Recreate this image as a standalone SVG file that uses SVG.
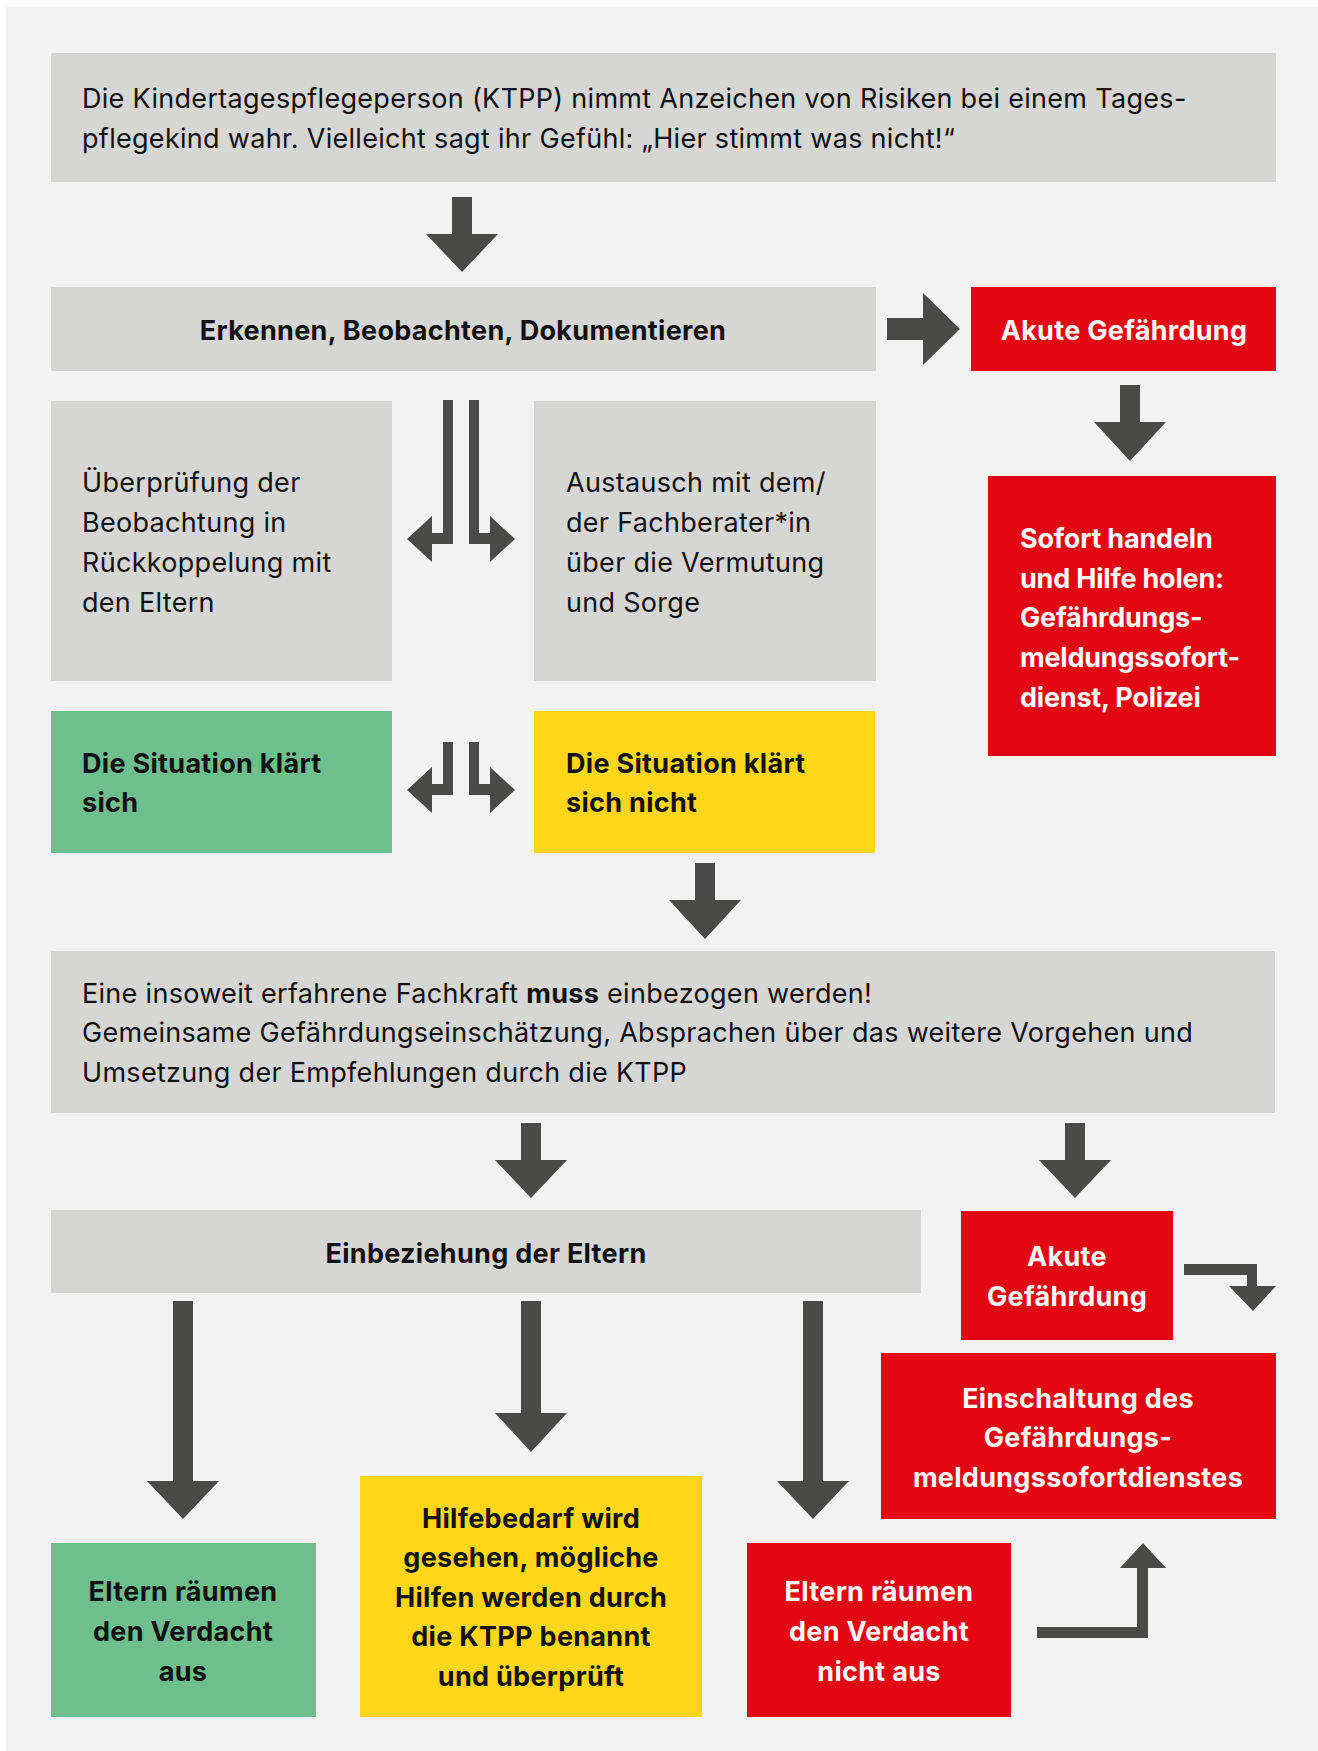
<svg xmlns="http://www.w3.org/2000/svg" width="1318" height="1751" viewBox="0 0 1318 1751">
<style>
text{font-family:Inter,"Liberation Sans",sans-serif;font-size:27px;letter-spacing:0.3px;fill:#111}
.b{font-weight:700}
.w{fill:#fff}
.c{text-anchor:middle}
.s{letter-spacing:-0.2px}
.gray{fill:#d6d6d4}
.red{fill:#e30613}
.green{fill:#6fbe8d}
.yellow{fill:#ffd619}
.arr{fill:#4a4a48}
</style>
<rect x="0" y="0" width="1318" height="1751" fill="#fff"/>
<rect x="6" y="7" width="1312" height="1744" fill="#f2f2f2"/>

<g id="n1">
<rect class="gray" x="51" y="53" width="1225" height="129"/>
<text x="82" y="108">Die Kindertagespflegeperson (KTPP) nimmt Anzeichen von Risiken bei einem Tages-</text>
<text x="82" y="148">pflegekind wahr. Vielleicht sagt ihr Gefühl: „Hier stimmt was nicht!“</text>
</g>
<g id="n2">
<rect class="gray" x="51" y="287" width="825" height="84"/>
<text class="b c" x="463" y="340">Erkennen, Beobachten, Dokumentieren</text>
</g>
<g id="n3">
<rect class="red" x="971" y="287" width="305" height="84"/>
<text class="b c w" x="1124" y="340">Akute Gefährdung</text>
</g>
<g id="n4">
<rect class="red" x="988" y="476" width="288" height="280"/>
<text class="b w s" x="1020" y="548">Sofort handeln</text>
<text class="b w s" x="1020" y="588">und Hilfe holen:</text>
<text class="b w s" x="1020" y="627">Gefährdungs-</text>
<text class="b w s" x="1020" y="667">meldungssofort-</text>
<text class="b w s" x="1020" y="707">dienst, Polizei</text>
</g>
<g id="n5">
<rect class="gray" x="51" y="401" width="341" height="280"/>
<text x="82" y="492">Überprüfung der</text>
<text x="82" y="532">Beobachtung in</text>
<text x="82" y="572">Rückkoppelung mit</text>
<text x="82" y="612">den Eltern</text>
</g>
<g id="n6">
<rect class="gray" x="534" y="401" width="342" height="280"/>
<text x="566" y="492">Austausch mit dem/</text>
<text x="566" y="532">der Fachberater*in</text>
<text x="566" y="572">über die Vermutung</text>
<text x="566" y="612">und Sorge</text>
</g>
<g id="n7">
<rect class="green" x="51" y="711" width="341" height="142"/>
<text class="b" x="82" y="773">Die Situation klärt</text>
<text class="b" x="82" y="812">sich</text>
</g>
<g id="n8">
<rect class="yellow" x="534" y="711" width="341" height="142"/>
<text class="b" x="566" y="773">Die Situation klärt</text>
<text class="b" x="566" y="812">sich nicht</text>
</g>
<g id="n9">
<rect class="gray" x="51" y="951" width="1224" height="162"/>
<text x="82" y="1003">Eine insoweit erfahrene Fachkraft <tspan class="b">muss</tspan> einbezogen werden!</text>
<text x="82" y="1042">Gemeinsame Gefährdungseinschätzung, Absprachen über das weitere Vorgehen und</text>
<text x="82" y="1082">Umsetzung der Empfehlungen durch die KTPP</text>
</g>
<g id="n10">
<rect class="gray" x="51" y="1210" width="870" height="83"/>
<text class="b c" x="486" y="1263">Einbeziehung der Eltern</text>
</g>
<g id="n11">
<rect class="red" x="961" y="1211" width="212" height="129"/>
<text class="b c w" x="1067" y="1266">Akute</text>
<text class="b c w" x="1067" y="1306">Gefährdung</text>
</g>
<g id="n12">
<rect class="red" x="881" y="1353" width="395" height="166"/>
<text class="b c w" x="1078" y="1408">Einschaltung des</text>
<text class="b c w" x="1078" y="1447">Gefährdungs-</text>
<text class="b c w" x="1078" y="1487">meldungssofortdienstes</text>
</g>
<g id="n13">
<rect class="green" x="51" y="1543" width="265" height="174"/>
<text class="b c" x="183" y="1601">Eltern räumen</text>
<text class="b c" x="183" y="1641">den Verdacht</text>
<text class="b c" x="183" y="1681">aus</text>
</g>
<g id="n14">
<rect class="yellow" x="360" y="1476" width="342" height="241"/>
<text class="b c" x="531" y="1528">Hilfebedarf wird</text>
<text class="b c" x="531" y="1567">gesehen, mögliche</text>
<text class="b c" x="531" y="1607">Hilfen werden durch</text>
<text class="b c" x="531" y="1646">die KTPP benannt</text>
<text class="b c" x="531" y="1686">und überprüft</text>
</g>
<g id="n15">
<rect class="red" x="747" y="1543" width="264" height="174"/>
<text class="b c w" x="879" y="1601">Eltern räumen</text>
<text class="b c w" x="879" y="1641">den Verdacht</text>
<text class="b c w" x="879" y="1681">nicht aus</text>
</g>

<g id="connectors" class="arr">
<polygon points="452,197 472,197 472,234 498,234 462,272 426,234 452,234"/>
<polygon points="887,318 923,318 923,293 960,329 923,365 923,340 887,340"/>
<polygon points="1120,385 1140,385 1140,422 1166,422 1130,461 1094,422 1120,422"/>
<polygon points="443,400 453,400 453,544 432,544 432,562 407,539 432,516 432,533 443,533"/>
<polygon points="469,400 479,400 479,533 490,533 490,516 515,539 490,562 490,544 469,544"/>
<polygon points="443,742 453,742 453,795 432,795 432,813 407,790 432,767 432,784 443,784"/>
<polygon points="469,742 479,742 479,784 490,784 490,767 515,790 490,813 490,795 469,795"/>
<polygon points="695,863 715,863 715,900 741,900 705,939 669,900 695,900"/>
<polygon points="521,1123 541,1123 541,1160 567,1160 531,1198 495,1160 521,1160"/>
<polygon points="1065,1123 1085,1123 1085,1160 1111,1160 1075,1198 1039,1160 1065,1160"/>
<polygon points="1184,1264 1257,1264 1257,1286 1276,1286 1253,1311 1229,1286 1247,1286 1247,1275 1184,1275"/>
<polygon points="173,1301 193,1301 193,1481 219,1481 183,1519 147,1481 173,1481"/>
<polygon points="521,1301 541,1301 541,1413 567,1413 531,1452 495,1413 521,1413"/>
<polygon points="803,1301 823,1301 823,1481 849,1481 813,1519 777,1481 803,1481"/>
<polygon points="1037,1627 1137,1627 1137,1568 1120,1568 1143,1543 1166,1568 1148,1568 1148,1638 1037,1638"/>
</g>
</svg>
